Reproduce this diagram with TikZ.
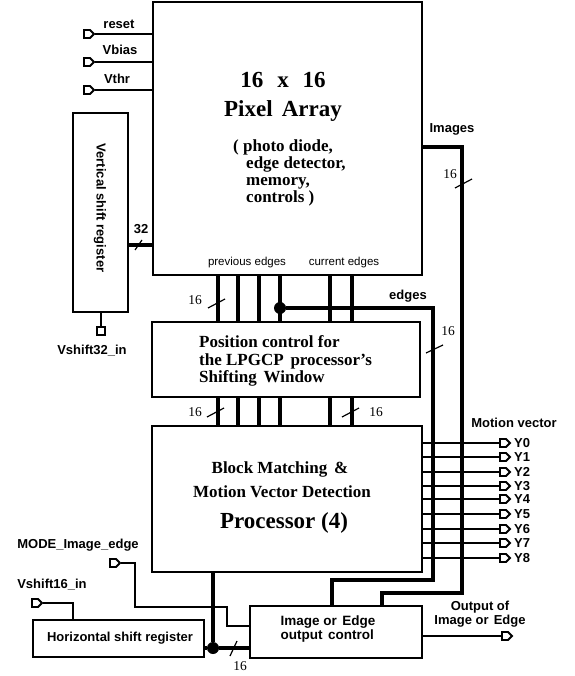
\documentclass[tikz,border=0pt]{standalone}
\usepackage{fontspec}
\setmainfont{Liberation Serif}
\setsansfont{Liberation Sans}
\usetikzlibrary{shapes.symbols}

\begin{document}
\begin{tikzpicture}[x=1pt,y=-1pt,
    blk/.style={draw,line width=1.3pt,inner sep=0pt},
    huge/.style={font=\bfseries\fontsize{23}{23}\selectfont,inner sep=0pt,anchor=base},
    big/.style={font=\bfseries\fontsize{17}{17}\selectfont,inner sep=0pt},
    lbl/.style={font=\sffamily\bfseries\fontsize{13}{14}\selectfont,inner sep=0pt},
    small/.style={font=\sffamily\fontsize{11.5}{12}\selectfont,inner sep=0pt},
    num/.style={font=\fontsize{13.5}{13.5}\selectfont,inner sep=0pt},
    wire/.style={line width=1.2pt},
    bus/.style={line width=4.5pt},
    tick/.style={line width=1.2pt},
    dot/.style={circle,fill,inner sep=0pt,minimum size=12pt},
    pin/.style={draw,line width=1.8pt,fill=white,signal,signal to=east,minimum width=10pt,minimum height=8pt,inner sep=0pt}]
  \useasboundingbox (0,0) rectangle (574,676);

  % boxes
  \node[blk,minimum width=269pt,minimum height=273pt] (pix) at (287.5,138.5) {};
  \node[blk,minimum width=55pt,minimum height=199pt] (vsr) at (100.5,212.5) {};
  \node[blk,minimum width=268pt,minimum height=75pt] (pos) at (286,359.5) {};
  \node[blk,minimum width=270pt,minimum height=146pt] (bmp) at (287,499) {};
  \node[blk,minimum width=171pt,minimum height=37pt] (hsr) at (118.5,638.5) {};
  \node[blk,minimum width=172pt,minimum height=52pt] (ioc) at (336,632) {};

  % box texts
  \node[huge] (size) at (283,88) {16\hspace{0.6em}x\hspace{0.6em}16};
  \node[huge] (arr) at (283,117) {Pixel\hspace{0.4em}Array};
  \node[big,anchor=base west] (pd) at (233,152) {( photo diode,};
  \node[big,anchor=base west] (ed) at (246,168.7) {edge detector,};
  \node[big,anchor=base west] (mem) at (246,185.4) {memory,};
  \node[big,anchor=base west] (ctl) at (246,202) {controls )};
  \node[big,anchor=base west] (pc1) at (199,347) {Position control for};
  \node[big,anchor=base west] (pc2) at (199,365) {the LPGCP\hspace{0.4em}processor's};
  \node[big,anchor=base west] (pc3) at (199,382) {Shifting\hspace{0.4em}Window};
  \node[big,anchor=base] (bm1) at (280,473) {Block Matching\hspace{0.4em}\&};
  \node[big,anchor=base] (bm2) at (282,497) {Motion Vector Detection};
  \node[huge] (bm3) at (284,528) {Processor (4)};
  \node[lbl,rotate=-90] (vsrt) at (100,208) {Vertical shift register};
  \node[lbl] (hsrt) at (120,638) {Horizontal shift register};
  \node[lbl,align=left,font=\sffamily\bfseries\fontsize{13.5}{12.5}\selectfont] (ioct) at (328,629) {Image or\hspace{0.4em}Edge\\output\hspace{0.4em}control};

  % buses between the blocks
  \foreach \bx in {218,238,259,280,330,352} {
    \draw[bus] (\bx,0 |- pix.south) -- (\bx,0 |- pos.north);
    \draw[bus] (\bx,0 |- pos.south) -- (\bx,0 |- bmp.north);
  }
  \node[small] (prev) at (247,263) {previous edges};
  \node[small] (cur) at (344,263) {current edges};
  \node[dot] (jn) at (280,308) {};
  \draw[bus] (jn) -- (433,308) -- (433,580) -- (332,580) -- (ioc.north -| 332,0);
  \draw[bus] (pix.east |- 0,147) -- (462,147) -- (462,593) -- (382,593) -- (ioc.north -| 382,0);
  \node[lbl] (edg) at (408,296) {edges};
  \node[lbl] (img) at (452,129) {Images};
  \draw[bus] (vsr.east |- 0,245) -- (pix.west |- 0,245);
  \node[lbl] (n32) at (141,229) {32};
  \node[dot] (jn2) at (213,648) {};
  \draw[bus] (bmp.south -| jn2) -- (jn2) -- (ioc.west |- jn2);
  \draw[bus] (hsr.east |- jn2) -- (jn2);

  % bus widths
  \draw[tick] (135,250) -- (142,240);
  \draw[tick] (208,308) -- (225,299);
  \draw[tick] (207,417) -- (224,408);
  \draw[tick] (342,417) -- (359,408);
  \draw[tick] (455,188) -- (472,179);
  \draw[tick] (426,353) -- (443,345);
  \draw[tick] (230,656) -- (237,641);
  \node[num] (w1) at (195,300) {16};
  \node[num] (w2) at (195,412) {16};
  \node[num] (w3) at (376,412) {16};
  \node[num] (w4) at (450,174) {16};
  \node[num] (w5) at (448,331) {16};
  \node[num] (w6) at (240,666) {16};

  % inputs
  \node[pin] (rst) at (87,34) {};
  \node[pin] (vb) at (87,62) {};
  \node[pin] (vt) at (87,90) {};
  \draw[wire] (rst) -- (rst -| pix.west);
  \draw[wire] (vb) -- (vb -| pix.west);
  \draw[wire] (vt) -- (vt -| pix.west);
  \node[lbl] (rstl) at (119,24) {reset};
  \node[lbl] (vbl) at (120,50) {Vbias};
  \node[lbl] (vtl) at (117,79) {Vthr};
  \node[pin,signal to=nowhere,minimum width=8pt] (v32) at (101,331) {};
  \draw[wire] (vsr.south -| v32) -- (v32);
  \node[lbl] (v32l) at (92,351) {Vshift32\_in};
  \node[pin] (v16) at (35,603) {};
  \draw[wire] (v16) -- (73,603) -- (hsr.north -| 73,0);
  \node[lbl] (v16l) at (52,585) {Vshift16\_in};
  \node[pin] (mode) at (113,563) {};
  \draw[wire] (mode) -- (135,563) -- (135,607) -- (227,607) -- (227,626) -- (ioc.west |- 0,626);
  \node[lbl] (model) at (78,545) {MODE\_Image\_edge};

  % outputs
  \node[lbl] (mv) at (514,423) {Motion vector};
  \foreach \i/\y in {0/443,1/457,2/472,3/486,4/499,5/514,6/529,7/543,8/558} {
    \node[pin] (y\i) at (503,\y) {};
    \draw[wire] (y\i -| bmp.east) -- (y\i);
    \node[lbl,anchor=west] (yl\i) at (514,\y) {Y\i};
  }
  \node[pin] (out) at (505,636) {};
  \draw[wire] (ioc.east |- out) -- (out);
  \node[lbl,align=center] (outl) at (480,614) {Output of\\Image or\hspace{0.4em}Edge};
\end{tikzpicture}
\end{document}
